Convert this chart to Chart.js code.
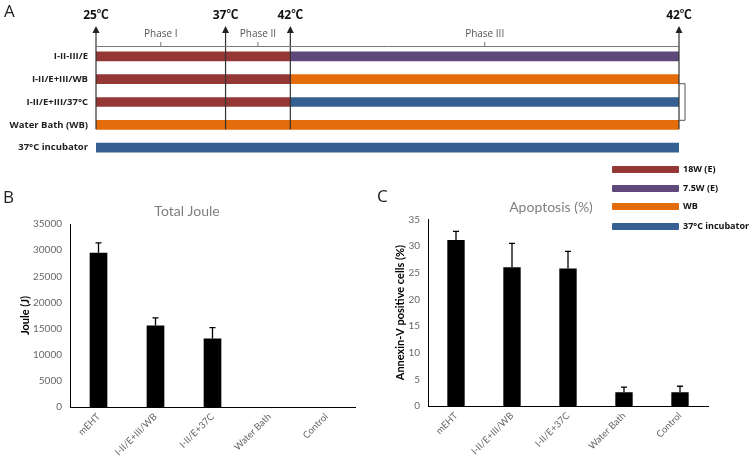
<!DOCTYPE html>
<html>
<head>
<meta charset="utf-8">
<script src="https://cdn.jsdelivr.net/npm/chart.js@4.4.0/dist/chart.umd.min.js"></script>
<style>
  body { margin: 0; background: #fff; }
  #wrap { position: relative; width: 750px; height: 458px; overflow: hidden; font-family: 'Open Sans', sans-serif; }
  canvas { position: absolute; }
  .letter { position: absolute; font-size: 17px; color: #222; line-height: 1; }
  .leg { position: absolute; left: 612px; height: 14px; }
  .leg span.sw { position: absolute; left: 0; top: 3px; width: 67px; height: 7px; border-radius: 1px; }
  .leg span.tx { position: absolute; left: 71px; top: -1px; font-size: 9px; font-weight: bold; color: #111; white-space: nowrap; }
</style>
</head>
<body>
<div id="wrap">
  <canvas id="chartA" width="750" height="165" style="left:0;top:0"></canvas>
  <canvas id="chartB" width="370" height="273" style="left:0;top:185px"></canvas>
  <canvas id="chartC" width="380" height="273" style="left:370px;top:185px"></canvas>
  <div class="letter" style="left:4px;top:2px">A</div>
  <div class="letter" style="left:3px;top:188px">B</div>
  <div class="letter" style="left:377px;top:187px">C</div>
  <div id="legend"></div>
</div>
<script>
// panel A: treatment timeline
const rows = ['I-II-III/E', 'I-II/E+III/WB', 'I-II/E+III/37°C', 'Water Bath (WB)', '37°C incubator'];
const phaseEdges = [0, 2, 3, 9];
const edgeTemps = ['25℃', '37℃', '42℃', '42℃'];
const phaseNames = ['Phase I', 'Phase II', 'Phase III'];
const seg18W = [[0, 3], [0, 3], [0, 3], null, null];
const seg75W = [[3, 9], null, null, null, null];
const segWB = [null, [3, 9], null, [0, 9], null];
const segInc = [null, null, [3, 9], null, [0, 9]];
const legendNames = ['18W (E)', '7.5W (E)', 'WB', '37°C incubator'];
const legendColors = ['#953735', '#5f497a', '#e46c0a', '#376092'];

// panels B and C
const groups = ['mEHT', 'I-II/E+III/WB', 'I-II/E+37C', 'Water Bath', 'Control'];
const joule = [29500, 15600, 13100, 0, 0];
const jouleErr = [1900, 1450, 2100, 0, 0];
const apoptosis = [31.1, 26.0, 25.8, 2.6, 2.6];
const apoptosisErr = [1.65, 4.5, 3.2, 0.95, 1.1];

const fontA = "'Open Sans', 'Noto Sans CJK SC', sans-serif";

// legend (html)
const legend = document.getElementById('legend');
const legendTops = [163, 182, 200, 220];
legendNames.forEach((name, i) => {
    const d = document.createElement('div');
    d.className = 'leg';
    d.style.top = legendTops[i] + 'px';
    d.innerHTML = `<span class="sw" style="background:${legendColors[i]}"></span><span class="tx">${name}</span>`;
    legend.appendChild(d);
});

// arrows, phase bracket and temperatures
const timelinePlugin = {
    id: 'timeline',
    afterDatasetsDraw(chart) {
        const ctx = chart.ctx;
        const x = chart.scales.x;
        const y = chart.scales.y;
        const xs = phaseEdges.map(v => x.getPixelForValue(v));
        const bottom = y.getPixelForValue(3) + 4.5;
        ctx.save();
        ctx.strokeStyle = '#333';
        ctx.fillStyle = '#222';
        ctx.lineWidth = 1.2;
        xs.forEach((px, i) => {
            ctx.beginPath();
            ctx.moveTo(px, 31);
            ctx.lineTo(px, bottom);
            ctx.stroke();
            ctx.beginPath();
            ctx.moveTo(px, 26);
            ctx.lineTo(px - 3.5, 33);
            ctx.lineTo(px + 3.5, 33);
            ctx.closePath();
            ctx.fill();
            ctx.font = 'bold 12px ' + fontA;
            ctx.textAlign = 'center';
            ctx.textBaseline = 'middle';
            ctx.fillStyle = '#111';
            ctx.fillText(edgeTemps[i], px, 16);
            ctx.fillStyle = '#222';
        });
        // phase bracket
        ctx.strokeStyle = '#777';
        ctx.lineWidth = 1;
        ctx.beginPath();
        ctx.moveTo(xs[0], 46.5);
        ctx.lineTo(xs[3], 46.5);
        ctx.lineTo(xs[3], 50);
        ctx.stroke();
        ctx.font = '10px ' + fontA;
        ctx.fillStyle = '#555';
        for (let i = 0; i < 3; i++) {
            const mid = (xs[i] + xs[i + 1]) / 2;
            ctx.beginPath();
            ctx.moveTo(mid, 42);
            ctx.lineTo(mid, 46.5);
            ctx.stroke();
            ctx.fillText(phaseNames[i], mid, 34);
        }
        // right bracket joining WB rows
        const bx = xs[3] + 6;
        const y1 = y.getPixelForValue(1) + 4.5;
        const y2 = y.getPixelForValue(3) - 4.5;
        ctx.strokeStyle = '#555';
        ctx.beginPath();
        ctx.moveTo(xs[3], y1);
        ctx.lineTo(bx, y1);
        ctx.lineTo(bx, y2);
        ctx.lineTo(xs[3], y2);
        ctx.stroke();
        ctx.restore();
    }
};

new Chart(document.getElementById('chartA'), {
    type: 'bar',
    data: {
        labels: rows,
        datasets: [
            { label: legendNames[0], data: seg18W, backgroundColor: legendColors[0] },
            { label: legendNames[1], data: seg75W, backgroundColor: legendColors[1] },
            { label: legendNames[2], data: segWB, backgroundColor: legendColors[2] },
            { label: legendNames[3], data: segInc, backgroundColor: legendColors[3] }
        ]
    },
    options: {
        indexAxis: 'y',
        responsive: false,
        animation: false,
        barThickness: 9,
        layout: { padding: { top: 45, right: 71, bottom: 6, left: 0 } },
        plugins: { legend: { display: false }, tooltip: { enabled: false } },
        scales: {
            x: { type: 'linear', min: 0, max: 9, display: false },
            y: {
                stacked: true,
                grid: { display: false, drawTicks: false },
                border: { display: false },
                ticks: { color: '#222', padding: 8, font: { family: fontA, size: 9.5, weight: 'bold' } },
                afterFit: s => { s.width = 96; s.paddingTop = 0; s.paddingBottom = 0; }
            }
        }
    },
    plugins: [timelinePlugin]
});

// error bars for B and C
const errorBars = {
    id: 'errorBars',
    afterDatasetsDraw(chart) {
        const ctx = chart.ctx;
        const ys = chart.scales.y;
        const meta = chart.getDatasetMeta(0);
        const vals = chart.data.datasets[0].data;
        const errs = chart.options.plugins.errorBars.errors;
        ctx.save();
        ctx.strokeStyle = '#000';
        ctx.lineWidth = 1.3;
        meta.data.forEach((bar, i) => {
            if (!errs[i]) return;
            const top = ys.getPixelForValue(vals[i] + errs[i]);
            const base = ys.getPixelForValue(vals[i]);
            ctx.beginPath();
            ctx.moveTo(bar.x, base);
            ctx.lineTo(bar.x, top);
            ctx.moveTo(bar.x - 3, top);
            ctx.lineTo(bar.x + 3, top);
            ctx.stroke();
        });
        ctx.restore();
    }
};

function makeBarChart(id, values, errors, title, yTitle, yMax, step, pad, yWidth, xHeight, titlePad) {
    return new Chart(document.getElementById(id), {
        type: 'bar',
        data: {
            labels: groups,
            datasets: [{ data: values, backgroundColor: '#000', barPercentage: 0.31, categoryPercentage: 1 }]
        },
        options: {
            responsive: false,
            animation: false,
            layout: { padding: pad },
            plugins: {
                legend: { display: false },
                tooltip: { enabled: false },
                title: {
                    display: true,
                    text: title,
                    color: '#7f7f7f',
                    font: { family: 'Lato', size: 14, weight: 'normal' },
                    padding: titlePad
                },
                errorBars: { errors: errors }
            },
            scales: {
                x: {
                    grid: { display: false, drawTicks: false },
                    border: { color: '#000', width: 1 },
                    ticks: { color: '#666', maxRotation: 45, minRotation: 45, padding: 4, font: { family: 'Lato', size: 9.5 } },
                    afterFit: s => { s.height = xHeight; }
                },
                y: {
                    min: 0,
                    max: yMax,
                    grid: { display: false, drawTicks: false },
                    border: { color: '#000', width: 1 },
                    ticks: { stepSize: step, color: '#666', padding: 8, font: { family: 'Lato', size: 10 }, callback: v => String(v) },
                    title: { display: true, text: yTitle, color: '#000', padding: 0, font: { family: 'Lato', size: 11, weight: 'bold' } },
                    afterFit: s => { s.width = yWidth; }
                }
            }
        },
        plugins: [errorBars]
    });
}

makeBarChart('chartB', joule, jouleErr, 'Total Joule', 'Joule (J)', 35000, 5000,
    { left: 19, right: 15, top: 0, bottom: 0 }, 51, 51, { top: 17.6, bottom: 4.6 });
makeBarChart('chartC', apoptosis, apoptosisErr, 'Apoptosis (%)', 'Annexin-V positive cells (%)', 35, 5,
    { left: 24, right: 42, top: 0, bottom: 0 }, 34, 52, { top: 13.6, bottom: 3.9 });
</script>
</body>
</html>
